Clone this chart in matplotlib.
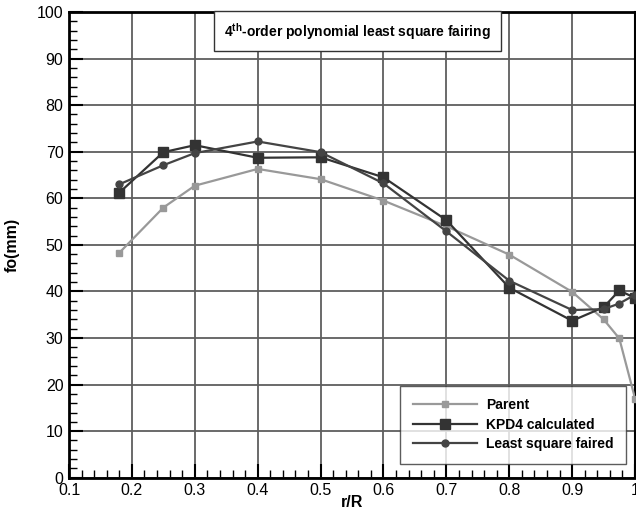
import numpy as np
import matplotlib

matplotlib.use("Agg")
import matplotlib.pyplot as plt
from matplotlib.ticker import MultipleLocator

plt.rcParams["font.family"] = ["Liberation Sans", "DejaVu Sans"]
plt.rcParams["mathtext.fontset"] = "custom"
plt.rcParams["mathtext.rm"] = "Liberation Sans:bold"
plt.rcParams["mathtext.bf"] = "Liberation Sans:bold"

# r/R stations
r_R = [0.18, 0.25, 0.3, 0.4, 0.5, 0.6, 0.7, 0.8, 0.9, 0.95, 0.975, 1.0]

# fo (mm)
parent = [48.3, 58.0, 62.7, 66.3, 64.1, 59.5, 54.0, 47.9, 39.9, 34.0, 29.9, 17.0]
kpd4_calc = [61.2, 69.9, 71.4, 68.7, 68.8, 64.5, 55.3, 40.8, 33.7, 36.6, 40.2, 38.6]
ls_faired = [63.0, 67.1, 69.7, 72.2, 69.9, 63.2, 52.9, 42.3, 36.0, 36.2, 37.4, 39.3]

x_ticks = [0.1, 0.2, 0.3, 0.4, 0.5, 0.6, 0.7, 0.8, 0.9, 1.0]
x_ticklabels = ["0.1", "0.2", "0.3", "0.4", "0.5", "0.6", "0.7", "0.8", "0.9", "1"]

fig = plt.figure(figsize=(6.36, 5.17), dpi=100)
ax = fig.add_axes([0.1085, 0.076, 0.890, 0.9008])

ax.plot(r_R, parent, color="#999999", lw=1.6, marker="s", ms=4.5,
        label="Parent", zorder=3)
ax.plot(r_R, kpd4_calc, color="#333333", lw=1.6, marker="s", ms=7,
        label="KPD4 calculated", zorder=4)
ax.plot(r_R, ls_faired, color="#444444", lw=1.6, marker="o", ms=5,
        label="Least square faired", zorder=5)

ax.set_xlim(0.1, 1.0)
ax.set_ylim(0, 100)
ax.set_xticks(x_ticks)
ax.set_xticklabels(x_ticklabels)
ax.xaxis.set_minor_locator(MultipleLocator(0.02))
ax.yaxis.set_major_locator(MultipleLocator(10))
ax.yaxis.set_minor_locator(MultipleLocator(2))
ax.tick_params(which="major", direction="in", length=10, width=1.5,
               labelsize=11.5, top=False, right=False, pad=4)
ax.tick_params(which="minor", direction="in", length=6, width=1.0,
               top=False, right=False)
ax.grid(True, which="major", color="#5e5e5e", lw=1.3)
ax.set_axisbelow(True)
for side in ["left", "bottom", "top"]:
    ax.spines[side].set_linewidth(2)
ax.spines["right"].set_linewidth(1.5)

ax.set_xlabel("r/R", fontsize=11.5, fontweight="bold", labelpad=-2)
ax.set_ylabel("fo(mm)", fontsize=11.5, fontweight="bold", labelpad=12)

ax.text(0.5586, 95.9, r"4$^{\mathbf{th}}$-order polynomial least square fairing",
        ha="center", va="center", fontsize=10, fontweight="bold",
        bbox=dict(boxstyle="square,pad=0.7", fc="white", ec="#333333", lw=1),
        zorder=6)

leg = ax.legend(loc="lower left", bbox_to_anchor=(0.585, 0.03),
                fontsize=10, frameon=True, fancybox=False,
                handlelength=4.6, handletextpad=0.7, labelspacing=0.4,
                borderpad=0.9, borderaxespad=0)
leg.get_frame().set_edgecolor("#333333")
leg.get_frame().set_linewidth(1)
for t in leg.get_texts():
    t.set_fontweight("bold")

fig.savefig("out.png", dpi=100)
